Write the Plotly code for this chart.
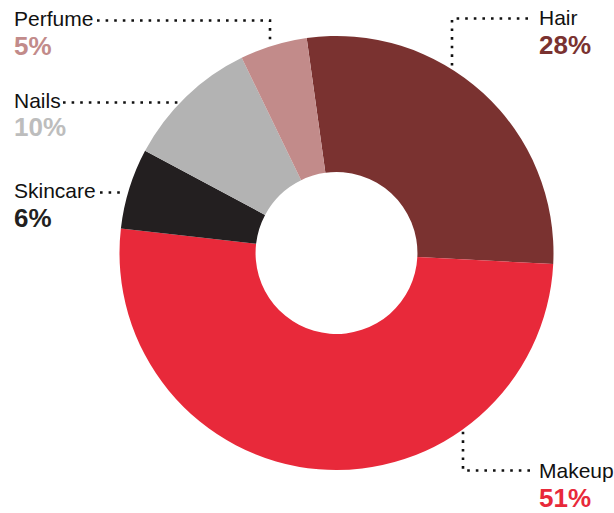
import math
import plotly.graph_objects as go

# Share of sales by category (clockwise from the top)
categories = ["Hair", "Makeup", "Skincare", "Nails", "Perfume"]
shares = [28, 51, 6, 10, 5]
colors = ["#7a3230", "#e8293a", "#231f20", "#b3b3b3", "#c28b8a"]
pct_colors = ["#7a3230", "#e8293a", "#231f20", "#bdbdbd", "#c28b8a"]

W, H = 614, 513
CX, CY, R = 336.5, 253.0, 217.0   # donut centre and outer radius, px
HOLE = 0.373

# Label layout: text anchor (x, y of the name line) and leader elbow
label_layout = {
    "Perfume":  dict(tx=12,  ty=18.5,  side="left",  start=(97, 20.5),  elbow=(270, 20.5),  mode="v"),
    "Nails":    dict(tx=12,  ty=100.0, side="left",  start=(63, 102.5), elbow=None,         mode="h"),
    "Skincare": dict(tx=12,  ty=190.0, side="left",  start=(100, 192.5), elbow=None,        mode="h"),
    "Hair":     dict(tx=537, ty=17.0,  side="right", start=(528, 18.5), elbow=(452, 18.5),  mode="v"),
    "Makeup":   dict(tx=537, ty=470.5, side="right", start=(530, 470.5), elbow=(463, 470.5), mode="v"),
}

def px(x):
    return x / W

def py(y):
    return 1 - y / H

def rim_end(pt, mode, gap=2.5):
    """Point where a leader running from pt meets the donut rim."""
    x, y = pt
    if mode == "v":
        d = math.sqrt(max(R * R - (x - CX) ** 2, 0))
        y_r = CY - d if y < CY else CY + d
        return (x, y_r - gap if y < CY else y_r + gap)
    d = math.sqrt(max(R * R - (y - CY) ** 2, 0))
    x_r = CX - d if x < CX else CX + d
    return (x_r - gap if x < CX else x_r + gap, y)

fig = go.Figure(
    go.Pie(
        labels=categories,
        values=shares,
        sort=False,
        direction="clockwise",
        rotation=-7.9,
        hole=HOLE,
        marker=dict(colors=colors, line=dict(width=0)),
        textinfo="none",
        hoverinfo="label+percent",
        showlegend=False,
        domain=dict(x=[px(CX - R), px(CX + R)], y=[py(CY + R), py(CY - R)]),
    )
)

shapes = []
annotations = []
font_family = "Liberation Sans, Arial, Helvetica, sans-serif"
for name, share, pc in zip(categories, shares, pct_colors):
    lay = label_layout[name]
    pts = [lay["start"]]
    if lay["elbow"] is not None:
        pts.append(lay["elbow"])
    pts.append(rim_end(pts[-1], lay["mode"]))
    path = "M " + " L ".join(f"{px(x):.5f},{py(y):.5f}" for x, y in pts)
    shapes.append(dict(
        type="path", path=path, xref="paper", yref="paper",
        line=dict(color="#111111", width=2.6, dash="2.6px,6px"),
    ))
    annotations.append(dict(
        text=name, x=px(lay["tx"]), y=py(lay["ty"]), xref="paper", yref="paper",
        xanchor="left", yanchor="middle", showarrow=False,
        font=dict(family=font_family, size=21, color="#111111"),
    ))
    annotations.append(dict(
        text=f"<b>{share}%</b>", x=px(lay["tx"]), y=py(lay["ty"] + 27.5),
        xref="paper", yref="paper", xanchor="left", yanchor="middle", showarrow=False,
        font=dict(family=font_family, size=26, color=pc),
    ))

fig.update_layout(
    width=W, height=H,
    margin=dict(l=0, r=0, t=0, b=0),
    paper_bgcolor="white", plot_bgcolor="white",
    shapes=shapes, annotations=annotations,
)

fig.write_html("out.html")
